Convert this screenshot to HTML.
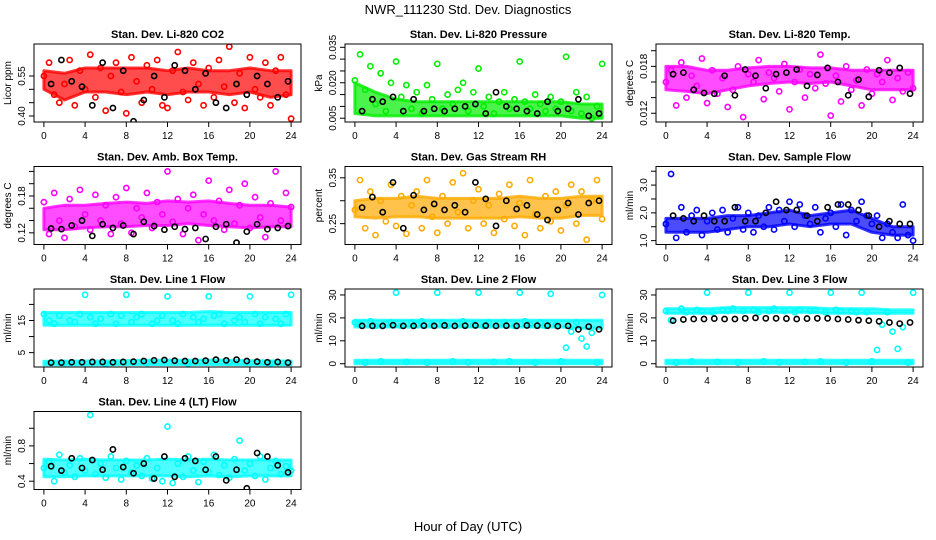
<!DOCTYPE html>
<html><head><meta charset="utf-8"><style>
body{margin:0;background:#fff;}
svg{display:block;font-family:"Liberation Sans",sans-serif;}
</style></head><body>
<svg id="chart" width="936" height="540" viewBox="0 0 936 540" xmlns="http://www.w3.org/2000/svg">
<text x="468" y="14" font-size="13" text-anchor="middle">NWR_111230 Std. Dev. Diagnostics</text>
<text x="468" y="531" font-size="13" text-anchor="middle">Hour of Day (UTC)</text>
</svg>
<script>
// ---- shared data ----
const xTicks = [0,4,8,12,16,20,24];
const bandHours = [0,2,4,6,8,10,12,14,16,18,20,22,24];

// P1 CO2
const co2Points = [0.55,0.60,0.48,0.45,0.52,0.61,0.44,0.57,0.50,0.63,0.47,0.58,0.42,0.55,0.60,0.49,0.41,0.62,0.53,0.45,0.59,0.50,0.61,0.44,0.43,0.57,0.64,0.49,0.46,0.60,0.52,0.44,0.58,0.47,0.61,0.51,0.66,0.45,0.56,0.43,0.62,0.50,0.47,0.60,0.44,0.57,0.62,0.48,0.39];
const co2Black = [0.52,0.61,0.53,0.51,0.44,0.60,0.43,0.57,0.38,0.46,0.55,0.47,0.59,0.57,0.50,0.56,0.45,0.43,0.52,0.48,0.55,0.52,0.47,0.53];
const co2BandLo = [0.50,0.46,0.49,0.49,0.48,0.49,0.48,0.49,0.49,0.48,0.49,0.47,0.48];
const co2BandHi = [0.57,0.56,0.58,0.58,0.58,0.58,0.57,0.58,0.57,0.57,0.58,0.57,0.57];
const co2Ticks = [0.40,0.45,0.50,0.55];
const co2TickLabels = ["0.40","","","0.55"];

// P2 Pressure
const presPoints = [0.021,0.032,0.017,0.027,0.011,0.024,0.008,0.020,0.029,0.014,0.019,0.009,0.016,0.007,0.019,0.013,0.028,0.009,0.015,0.011,0.017,0.020,0.008,0.016,0.026,0.010,0.014,0.007,0.012,0.016,0.009,0.013,0.029,0.012,0.009,0.015,0.011,0.008,0.014,0.009,0.012,0.031,0.008,0.016,0.007,0.014,0.005,0.010,0.028];
const presBlack = [0.008,0.013,0.012,0.014,0.008,0.013,0.008,0.009,0.008,0.009,0.010,0.011,0.007,0.016,0.010,0.009,0.008,0.007,0.012,0.008,0.009,0.013,0.006,0.007];
const presBandLo = [0.007,0.006,0.006,0.006,0.006,0.006,0.006,0.006,0.006,0.006,0.006,0.005,0.005];
const presBandHi = [0.020,0.016,0.013,0.012,0.012,0.012,0.012,0.012,0.012,0.012,0.012,0.011,0.011];
const presTicks = [0.005,0.010,0.015,0.020,0.025,0.030,0.035];
const presTickLabels = ["0.005","","","0.020","","","0.035"];

// P3 Li-820 Temp
const tempPoints = [0.0160,0.0175,0.0130,0.0185,0.0140,0.0168,0.0155,0.0190,0.0133,0.0175,0.0145,0.0165,0.0128,0.0150,0.0180,0.0115,0.0170,0.0160,0.0188,0.0138,0.0172,0.0165,0.0148,0.0183,0.0125,0.0160,0.0176,0.0140,0.0170,0.0152,0.0195,0.0158,0.0117,0.0168,0.0135,0.0180,0.0150,0.0162,0.0130,0.0176,0.0145,0.0170,0.0160,0.0188,0.0137,0.0165,0.0148,0.0172,0.0152];
const tempBlack = [0.0170,0.0172,0.0150,0.0146,0.0145,0.0168,0.0143,0.0176,0.0168,0.0152,0.0170,0.0172,0.0176,0.0155,0.0169,0.0178,0.0160,0.0143,0.0163,0.0141,0.0175,0.0172,0.0178,0.0145];
const tempBandLo = [0.0150,0.0148,0.0145,0.0150,0.0155,0.0158,0.0160,0.0158,0.0160,0.0155,0.0150,0.0150,0.0150];
const tempBandHi = [0.0180,0.0180,0.0175,0.0175,0.0178,0.0180,0.0180,0.0178,0.0178,0.0175,0.0175,0.0175,0.0175];
const tempTicks = [0.012,0.014,0.016,0.018,0.020];
const tempTickLabels = ["0.012","","","0.018",""];

// P4 Amb Box Temp
const ambPoints = [0.170,0.118,0.185,0.140,0.112,0.175,0.130,0.190,0.150,0.125,0.182,0.140,0.165,0.118,0.178,0.135,0.193,0.120,0.160,0.145,0.185,0.128,0.170,0.150,0.220,0.138,0.175,0.118,0.160,0.182,0.108,0.150,0.205,0.140,0.172,0.125,0.190,0.135,0.165,0.200,0.128,0.178,0.145,0.113,0.168,0.220,0.140,0.185,0.162];
const ambBlack = [0.127,0.126,0.132,0.140,0.115,0.134,0.128,0.132,0.118,0.138,0.131,0.125,0.130,0.126,0.128,0.110,0.130,0.134,0.104,0.122,0.134,0.126,0.128,0.131];
const ambBandLo = [0.125,0.125,0.128,0.130,0.130,0.132,0.132,0.135,0.132,0.130,0.128,0.130,0.130];
const ambBandHi = [0.160,0.165,0.165,0.168,0.170,0.168,0.172,0.170,0.172,0.168,0.165,0.165,0.162];
const ambTicks = [0.12,0.14,0.16,0.18,0.20,0.22];
const ambTickLabels = ["0.12","","","0.18","",""];

// P5 Gas Stream RH
const rhPoints = [0.280,0.345,0.240,0.320,0.225,0.300,0.255,0.335,0.245,0.310,0.228,0.290,0.320,0.240,0.345,0.265,0.230,0.310,0.250,0.340,0.275,0.360,0.240,0.300,0.325,0.250,0.290,0.230,0.315,0.260,0.335,0.245,0.295,0.225,0.345,0.270,0.240,0.310,0.255,0.320,0.235,0.290,0.335,0.250,0.320,0.215,0.300,0.345,0.260];
const rhBlack = [0.285,0.308,0.275,0.340,0.240,0.312,0.280,0.293,0.280,0.290,0.275,0.340,0.304,0.245,0.300,0.282,0.290,0.270,0.258,0.280,0.295,0.270,0.295,0.300];
const rhBandLo = [0.265,0.262,0.265,0.265,0.262,0.262,0.262,0.262,0.265,0.262,0.262,0.268,0.268];
const rhBandHi = [0.300,0.305,0.305,0.310,0.305,0.305,0.305,0.305,0.310,0.305,0.305,0.310,0.310];
const rhTicks = [0.25,0.30,0.35];
const rhTickLabels = ["0.25","","0.35"];

// P6 Sample Flow
const sfPoints = [1.6,3.4,1.1,2.2,1.3,1.9,2.1,1.2,1.7,2.0,1.4,2.1,1.3,1.8,2.2,1.4,2.0,1.3,1.9,1.5,2.2,1.4,2.1,1.7,2.4,1.5,2.3,1.9,1.6,2.2,1.3,1.8,2.0,1.5,2.3,1.2,2.1,1.7,2.4,1.9,1.6,1.9,1.1,1.6,1.3,1.1,2.3,1.2,1.0];
const sfBlack = [1.9,1.8,1.7,1.9,1.7,1.7,2.2,1.7,1.7,2.0,2.4,2.1,2.1,1.9,1.7,2.2,2.3,2.3,2.1,1.9,1.5,1.7,1.6,1.6];
const sfBandLo = [1.3,1.3,1.3,1.4,1.5,1.5,1.6,1.5,1.6,1.6,1.3,1.2,1.2];
const sfBandHi = [1.8,1.8,1.8,1.9,1.9,2.0,2.1,1.9,2.0,2.1,1.8,1.5,1.5];
const sfTicks = [1.0,1.5,2.0,2.5,3.0,3.5];
const sfTickLabels = ["1.0","","2.0","","3.0",""];

// P7 Line 1 Flow
const l1Points = [17,15,14,16.5,1.8,15,14.5,17,23,16,14,15.5,1.5,17,14,16.5,23,14.5,16,17,1.8,14,15,16.5,22.5,15,14,17,1.6,16,14.5,15.5,22.5,16.5,17,14,2.0,15,16,14.5,22.5,17,14,16,1.7,15.5,14,17,23];
const l1Black = [1.9,1.9,2.0,2.0,2.1,2.1,2.0,2.1,2.2,2.4,2.6,2.7,2.5,2.4,2.4,2.5,2.8,2.6,2.8,2.4,2.2,2.0,2.1,1.9];
const l1BandLo = [13.5,13.5,13.5,13.5,13.5,13.5,13.5,13.5,13.5,13.5,13.5,13.5,13.5];
const l1BandHi = [17.5,17.5,17.5,17.5,17.5,17.5,17.5,17.5,17.8,17.5,17.5,17.5,17.5];
const l1Band2Lo = [1.2,1.2,1.2,1.2,1.3,1.3,1.3,1.3,1.3,1.3,1.2,1.2,1.2];
const l1Band2Hi = [2.3,2.3,2.4,2.4,2.5,2.6,2.6,2.6,2.7,2.6,2.5,2.4,2.4];
const l1Ticks = [5,10,15,20];
const l1TickLabels = ["5","","15",""];

// P8 Line 2 Flow
const l2Points = [18,17,0.5,18.5,16.5,1,17.5,18,31,16.5,0.8,18,17,18.5,0.5,17,31,18,16.5,1,17.5,18.5,0.6,17,31,16.5,18,0.8,17.5,18,1,16.5,31,18.5,17,0.5,18,16.5,30.5,17,1,7,14,18,11,7.5,13.5,0.5,30];
const l2Black = [16.5,16.5,16.5,16.8,16.5,16.5,16.6,16.5,16.7,16.5,16.6,16.7,16.6,16.5,16.6,16.5,16.7,16.6,16.6,16.4,16.5,15.0,16.2,15.0];
const l2BandLo = [16,16,16,16,16,16,16,16,16,16,16,15.5,15.5];
const l2BandHi = [19,19,19,19,19,19,19,19,19,19,19,19,19];
const l2Band2Lo = [0,0,0,0,0,0,0,0,0,0,0,0,0];
const l2Band2Hi = [1.5,1.5,1.5,1.5,1.5,1.5,1.5,1.5,1.5,1.5,1.5,1.5,1.5];
const l2Ticks = [0,10,20,30];
const l2TickLabels = ["0","10","20","30"];

// P9 Line 3 Flow
const l3Points = [23,19,0.5,24,22.5,1,23.5,23,31,22.5,0.8,23.5,23,24,0.5,23,31,23.5,22.5,1,23,24,0.6,23,31,22.5,23.5,0.8,23,23.5,1,22.5,31,23.5,23,0.5,23,22.5,31,22.5,1,6,17,22.5,14,6.5,16,0.5,31];
const l3Black = [18.8,19.3,19.5,19.5,19.7,19.5,19.5,19.8,20.0,19.8,19.8,19.7,19.5,19.7,19.8,19.8,19.5,19.3,19.0,18.8,18.5,18.0,17.5,18.0];
const l3BandLo = [22,22,22,22.5,22.5,22.5,22.5,22.5,22,22,22,22,22];
const l3BandHi = [24,24,24,24.5,24.5,24.5,24.5,24.5,24,24,24,23.5,23.5];
const l3Band2Lo = [0,0,0,0,0,0,0,0,0,0,0,0,0];
const l3Band2Hi = [1.5,1.5,1.5,1.5,1.5,1.5,1.5,1.5,1.5,1.5,1.5,1.5,1.5];
const l3Ticks = [0,10,20,30];
const l3TickLabels = ["0","10","20","30"];

// P10 Line 4 (LT) Flow
const l4Points = [0.55,0.62,0.40,0.70,0.50,0.58,0.45,0.66,0.52,1.15,0.48,0.60,0.44,0.68,0.55,0.42,0.63,0.50,0.58,0.46,0.66,0.43,0.55,0.40,1.02,0.38,0.60,0.45,0.68,0.52,0.39,0.62,0.50,0.70,0.47,0.58,0.44,0.65,0.86,0.52,0.60,0.46,0.68,0.42,0.55,0.63,0.48,0.57,0.52];
const l4Black = [0.57,0.52,0.66,0.55,0.64,0.53,0.76,0.56,0.49,0.60,0.43,0.68,0.45,0.66,0.63,0.53,0.68,0.41,0.53,0.32,0.72,0.68,0.58,0.50];
const l4BandLo = [0.45,0.45,0.46,0.46,0.46,0.46,0.46,0.45,0.46,0.45,0.46,0.46,0.46];
const l4BandHi = [0.65,0.64,0.65,0.64,0.64,0.64,0.65,0.64,0.65,0.64,0.64,0.64,0.64];
const l4Ticks = [0.4,0.6,0.8,1.0];
const l4TickLabels = ["0.4","","0.8",""];

const NS = "http://www.w3.org/2000/svg";
const svg = document.getElementById('chart');
function mk(tag, attrs, parent){ const e=document.createElementNS(NS,tag); for(const k in attrs) e.setAttribute(k,attrs[k]); (parent||svg).appendChild(e); return e; }

const colLeft = [34,345,656];
const rowTop = [44,166.5,289,411.5];
const W = 267, H = 78;

const panels = [
 {key:'co2',title:'Stan. Dev. Li-820 CO2',ylab:'Licor ppm',dom:[0.3775,0.67],pts:co2Points,blk:co2Black,lo:co2BandLo,hi:co2BandHi,ticks:co2Ticks,tl:co2TickLabels,col:'#ff0000',r:0,c:0},
 {key:'pressure',title:'Stan. Dev. Li-820 Pressure',ylab:'kPa',dom:[0.0034,0.0364],pts:presPoints,blk:presBlack,lo:presBandLo,hi:presBandHi,ticks:presTicks,tl:presTickLabels,col:'#00ee00',r:0,c:1},
 {key:'li820-temp',title:'Stan. Dev. Li-820 Temp.',ylab:'degrees C',dom:[0.01088,0.02086],pts:tempPoints,blk:tempBlack,lo:tempBandLo,hi:tempBandHi,ticks:tempTicks,tl:tempTickLabels,col:'#ff00ff',r:0,c:2},
 {key:'amb-box-temp',title:'Stan. Dev. Amb. Box Temp.',ylab:'degrees C',dom:[0.101,0.228],pts:ambPoints,blk:ambBlack,lo:ambBandLo,hi:ambBandHi,ticks:ambTicks,tl:ambTickLabels,col:'#ff00ff',r:1,c:0},
 {key:'gas-rh',title:'Stan. Dev. Gas Stream RH',ylab:'percent',dom:[0.2045,0.3747],pts:rhPoints,blk:rhBlack,lo:rhBandLo,hi:rhBandHi,ticks:rhTicks,tl:rhTickLabels,col:'#ffaa00',r:1,c:1},
 {key:'sample-flow',title:'Stan. Dev. Sample Flow',ylab:'ml/min',dom:[0.86,3.67],pts:sfPoints,blk:sfBlack,lo:sfBandLo,hi:sfBandHi,ticks:sfTicks,tl:sfTickLabels,col:'#0000ff',r:1,c:2},
 {key:'line1-flow',title:'Stan. Dev. Line 1 Flow',ylab:'ml/min',dom:[0.53,24.8],pts:l1Points,blk:l1Black,lo:l1BandLo,hi:l1BandHi,lo2:l1Band2Lo,hi2:l1Band2Hi,ticks:l1Ticks,tl:l1TickLabels,col:'#00ffff',r:2,c:0},
 {key:'line2-flow',title:'Stan. Dev. Line 2 Flow',ylab:'ml/min',dom:[-1.43,32.6],pts:l2Points,blk:l2Black,lo:l2BandLo,hi:l2BandHi,lo2:l2Band2Lo,hi2:l2Band2Hi,ticks:l2Ticks,tl:l2TickLabels,col:'#00ffff',r:2,c:1},
 {key:'line3-flow',title:'Stan. Dev. Line 3 Flow',ylab:'ml/min',dom:[-1.43,32.6],pts:l3Points,blk:l3Black,lo:l3BandLo,hi:l3BandHi,lo2:l3Band2Lo,hi2:l3Band2Hi,ticks:l3Ticks,tl:l3TickLabels,col:'#00ffff',r:2,c:2},
 {key:'line4-flow',title:'Stan. Dev. Line 4 (LT) Flow',ylab:'ml/min',dom:[0.306,1.19],pts:l4Points,blk:l4Black,lo:l4BandLo,hi:l4BandHi,ticks:l4Ticks,tl:l4TickLabels,col:'#00ffff',r:3,c:0}
];

panels.forEach(p=>{
  const L=colLeft[p.c], T=rowTop[p.r], B=T+H, R=L+W;
  const g = mk('g',{});
  
  
  const xs = h => L + (h+0.96)/25.92*W;
  const ys = v => B - (v-p.dom[0])/(p.dom[1]-p.dom[0])*H;
  const clip = mk('clipPath',{id:'clip-'+p.key},g);
  mk('rect',{x:L,y:T,width:W,height:H},clip);
  const plot = mk('g',{'clip-path':'url(#clip-'+p.key+')'},g);
  
  
  function band(lo,hi,nm){
    let d='M'+bandHours.map((h,i)=>xs(h).toFixed(1)+','+ys(hi[i]).toFixed(1)).join('L');
    d+='L'+bandHours.map((h,i)=>xs(h).toFixed(1)+','+ys(lo[i]).toFixed(1)).reverse().join('L')+'Z';
    const e=mk('path',{d:d,fill:p.col,'fill-opacity':'0.7',stroke:p.col,'stroke-opacity':'0.8','stroke-width':'3','stroke-linejoin':'round'},plot);
    
    
  }
  band(p.lo,p.hi,'cloud-band-'+p.key);
  if(p.lo2) band(p.lo2,p.hi2,'cloud-band-low-'+p.key);
  p.pts.forEach((v,i)=>{
    const e=mk('circle',{cx:xs(i*0.5),cy:ys(v),r:2.6,fill:'none',stroke:p.col,'stroke-width':'1.6'},plot);
    
    
  });
  p.blk.forEach((v,i)=>{
    const e=mk('circle',{cx:xs(i+0.7),cy:ys(v),r:2.6,fill:'none',stroke:'#000','stroke-width':'1.6'},plot);
    
    
  });
  const box=mk('rect',{x:L,y:T,width:W,height:H,fill:'none',stroke:'#000','stroke-width':'1'},g);
  
  
  const t=mk('text',{x:(L+R)/2,y:T-6,'font-size':'11','font-weight':'bold','text-anchor':'middle'},g);
  t.textContent=p.title;
  
  
  mk('line',{x1:xs(xTicks[0]),x2:xs(xTicks[xTicks.length-1]),y1:B,y2:B,stroke:'#000'},g);
  xTicks.forEach(h=>{
    mk('line',{x1:xs(h),x2:xs(h),y1:B,y2:B+5,stroke:'#000'},g);
    const e=mk('text',{x:xs(h),y:B+17,'font-size':'10','text-anchor':'middle'},g);
    e.textContent=h;
    
    
  });
  mk('line',{x1:L,x2:L,y1:ys(p.ticks[0]),y2:ys(p.ticks[p.ticks.length-1]),stroke:'#000'},g);
  p.ticks.forEach((v,i)=>{
    const y=ys(v);
    mk('line',{x1:L-5,x2:L,y1:y,y2:y,stroke:'#000'},g);
    if(p.tl[i]){
      const e=mk('text',{x:L-9,y:y,'font-size':'10','text-anchor':'middle',transform:'rotate(-90 '+(L-9)+' '+y+')'},g);
      e.textContent=p.tl[i];
      
      
    }
  });
  const yl=mk('text',{x:L-23,y:(T+B)/2,'font-size':'10','text-anchor':'middle',transform:'rotate(-90 '+(L-23)+' '+((T+B)/2)+')'},g);
  yl.textContent=p.ylab;
  
  
});
</script>
</body></html>
